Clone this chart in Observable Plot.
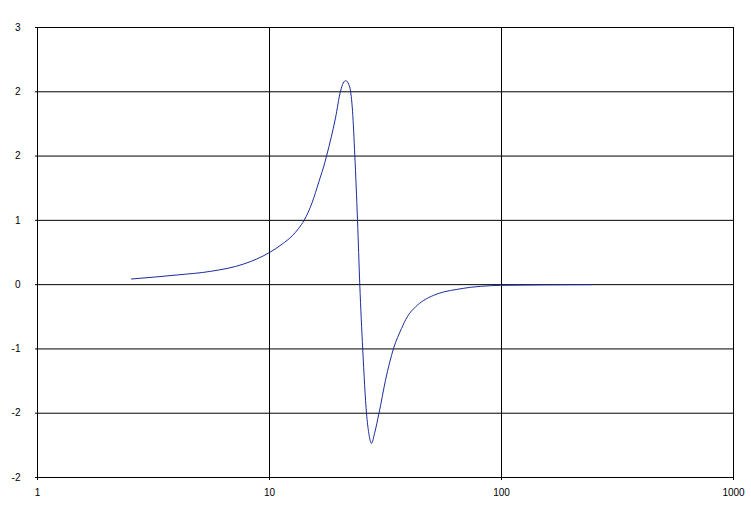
<!DOCTYPE html>
<html>
<head>
<meta charset="utf-8">
<script src="https://cdn.jsdelivr.net/npm/d3@7"></script>
<script src="https://cdn.jsdelivr.net/npm/@observablehq/plot@0.6"></script>
<style>
  html, body { margin: 0; padding: 0; background: #ffffff; }
  #chart { width: 751px; height: 510px; }
</style>
</head>
<body>
<div id="chart"></div>
<script>
// Frequency (x, log scale) values
const freq = [2.542, 4.001, 5.569, 7.748, 10.0, 11.34, 12.53, 13.38, 14.11, 15.28,
  16.32, 17.31, 17.66, 19.25, 20.23, 20.78, 21.33, 21.97, 22.23, 22.80,
  23.32, 23.95, 24.50, 25.22, 26.19, 26.80, 27.53, 28.36, 29.65, 31.62,
  34.22, 37.07, 39.23, 42.60, 46.25, 51.07, 56.40, 64.43, 73.50, 81.18,
  99.0, 246.0];
// Response values
const response = [0.066, 0.113, 0.155, 0.241, 0.375, 0.473, 0.570, 0.659, 0.752, 0.960,
  1.200, 1.422, 1.512, 1.945, 2.256, 2.352, 2.380, 2.334, 2.291, 2.023,
  1.508, 0.756, 0.0, -0.748, -1.500, -1.736, -1.852, -1.736, -1.500, -1.116,
  -0.748, -0.512, -0.376, -0.259, -0.183, -0.124, -0.085, -0.055, -0.031, -0.020,
  -0.008, 0.0];

const xTicks = [1, 10, 100, 1000];
const xTickLabels = ["1", "10", "100", "1000"];
const yTicks = [-2.25, -1.5, -0.75, 0, 0.75, 1.5, 2.25, 3];
const yTickLabels = ["-2", "-2", "-1", "0", "1", "2", "2", "3"];

const data = freq.map((f, i) => ({f, v: response[i]}));

const chart = Plot.plot({
  width: 751,
  height: 510,
  marginLeft: 37,
  marginRight: 18,
  marginTop: 27,
  marginBottom: 33,
  style: {fontFamily: "'Liberation Sans', Arial, sans-serif", fontSize: "10px", color: "#000", background: "#fff"},
  x: {type: "log", domain: [1, 1000]},
  y: {domain: [-2.25, 3]},
  marks: [
    Plot.gridY(yTicks, {stroke: "#000", strokeOpacity: 1}),
    Plot.gridX([10, 100, 1000], {stroke: "#000", strokeOpacity: 1}),
    Plot.ruleX([1], {stroke: "#000"}),
    Plot.ruleY([-2.25], {stroke: "#000"}),
    Plot.axisY({ticks: yTicks, tickSize: 2, tickPadding: 15, label: null,
      tickFormat: d => yTickLabels[yTicks.indexOf(d)]}),
    Plot.axisX({ticks: xTicks, tickSize: 3, tickPadding: 8, label: null,
      tickFormat: d => xTickLabels[xTicks.indexOf(d)]}),
    Plot.line(data, {x: "f", y: "v", stroke: "#1a2c9c", strokeWidth: 1, curve: "monotone-x"})
  ]
});
document.getElementById("chart").appendChild(chart);
</script>
</body>
</html>
